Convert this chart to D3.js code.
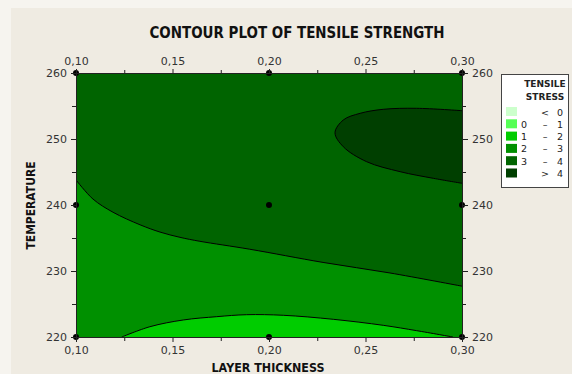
<!DOCTYPE html>
<html>
<head>
<meta charset="utf-8">
<script src="https://cdn.jsdelivr.net/npm/d3@7"></script>
<style>
  html, body { margin: 0; padding: 0; background: #efebe2; }
  svg { display: block; }
</style>
</head>
<body>
<svg id="chart" width="572" height="374"></svg>
<script>
// axis ticks
const thicknessTicks = [0.10, 0.15, 0.20, 0.25, 0.30];
const thicknessMinor = [0.125, 0.175, 0.225, 0.275];
const tempTicks = [220, 230, 240, 250, 260];
const tempMinor = [225, 235, 245, 255];

// design points (layer thickness, temperature)
const designThickness = [0.10, 0.20, 0.30];
const designTemp = [220, 240, 260];

// contour lines: [thickness, temperature]
const contour2 = [[0.1237, 220], [0.1383, 221.56], [0.1556, 222.58], [0.1729, 223.08], [0.1884, 223.38],
  [0.2074, 223.29], [0.2333, 222.68], [0.2592, 221.77], [0.2765, 220.96], [0.2953, 220]];
const contour3 = [[0.10, 243.8], [0.1088, 240.9], [0.1192, 238.9], [0.1332, 237.0], [0.1435, 235.9],
  [0.1539, 235.1], [0.1642, 234.5], [0.190, 233.3], [0.228, 231.3], [0.2627, 229.7], [0.30, 227.7]];
const contour4 = [[0.30, 254.29], [0.2765, 254.65], [0.2592, 254.5], [0.2472, 253.89], [0.2385, 252.88],
  [0.2342, 250.95], [0.2385, 248.83], [0.2506, 246.56], [0.2679, 245.05], [0.2852, 244.04], [0.30, 243.29]];

// legend
const legendFrom = ["", "0", "1", "2", "3", ""];
const legendSign = ["<", "\u2013", "\u2013", "\u2013", "\u2013", ">"];
const legendTo = ["0", "1", "2", "3", "4", "4"];
const levelColors = ["#ccffcc", "#55ff55", "#00cc00", "#009000", "#006400", "#003f00"];

const svg = d3.select("#chart");
const plotL = 76, plotR = 462, plotT = 73, plotB = 337;

const x = d3.scaleLinear().domain([0.10, 0.30]).range([plotL, plotR]);
const y = d3.scaleLinear().domain([220, 260]).range([plotB, plotT]);
const fmt = d3.formatLocale({decimal: ",", thousands: ".", grouping: [3], currency: ["", ""]}).format(".2f");

// lighter edges of the page scan
svg.append("rect").attr("x", 0).attr("y", 0).attr("width", 11).attr("height", 374).attr("fill", "#f6f4ef");
svg.append("rect").attr("x", 0).attr("y", 0).attr("width", 572).attr("height", 8).attr("fill", "#f6f4ef");

svg.append("defs").append("clipPath").attr("id", "plotClip")
  .append("rect").attr("x", plotL).attr("y", plotT).attr("width", plotR - plotL).attr("height", plotB - plotT);

const g = svg.append("g").attr("clip-path", "url(#plotClip)");
const line = d3.line().x(d => x(d[0])).y(d => y(d[1])).curve(d3.curveCatmullRom);

// 2 - 3 fills the whole area
g.append("rect").attr("x", plotL).attr("y", plotT).attr("width", plotR - plotL).attr("height", plotB - plotT)
    .attr("fill", levelColors[3]);

// 3 - 4 above contour3
g.append("path")
    .attr("d", line(contour3) + "L" + x(0.30) + "," + y(260) + "L" + x(0.10) + "," + y(260) + "Z")
    .attr("fill", levelColors[4]);

// > 4 ellipse at the right
g.append("path").attr("d", line(contour4) + "Z").attr("fill", levelColors[5]);

// 1 - 2 below contour2
g.append("path")
    .attr("d", line(contour2) + "L" + x(0.10) + "," + y(220) + "Z")
    .attr("fill", levelColors[2]);

[contour2, contour3, contour4].forEach(c => {
  g.append("path").attr("d", line(c)).attr("fill", "none").attr("stroke", "#000").attr("stroke-width", 1);
});

// design points
const pts = [];
designThickness.forEach(t => designTemp.forEach(T => pts.push([t, T])));
svg.append("g").selectAll("circle").data(pts).join("circle")
    .attr("cx", d => x(d[0])).attr("cy", d => y(d[1])).attr("r", 3)
    .attr("fill", "#000");

// axes
function styleAxis(sel) {
  sel.selectAll("path.domain").attr("stroke", "#222");
  sel.selectAll("line").attr("stroke", "#222");
  sel.selectAll("text").attr("font-family", "DejaVu Sans").attr("font-size", 11).attr("fill", "#333");
}

svg.append("g").attr("transform", `translate(0,${plotB})`)
    .call(d3.axisBottom(x).tickValues(thicknessTicks).tickFormat(fmt).tickSize(5).tickPadding(4).tickSizeOuter(0))
    .call(styleAxis);
svg.append("g").attr("transform", `translate(0,${plotB})`)
    .call(d3.axisBottom(x).tickValues(thicknessMinor).tickFormat("").tickSize(4).tickSizeOuter(0))
    .call(styleAxis);
svg.append("g").attr("transform", `translate(0,${plotT})`)
    .call(d3.axisTop(x).tickValues(thicknessTicks).tickFormat(fmt).tickSize(4).tickPadding(4).tickSizeOuter(0))
    .call(styleAxis);
svg.append("g").attr("transform", `translate(0,${plotT})`)
    .call(d3.axisTop(x).tickValues(thicknessMinor).tickFormat("").tickSize(3).tickSizeOuter(0))
    .call(styleAxis);
svg.append("g").attr("transform", `translate(${plotL},0)`)
    .call(d3.axisLeft(y).tickValues(tempTicks).tickFormat(d3.format("d")).tickSize(5).tickPadding(4).tickSizeOuter(0))
    .call(styleAxis);
svg.append("g").attr("transform", `translate(${plotL},0)`)
    .call(d3.axisLeft(y).tickValues(tempMinor).tickFormat("").tickSize(4).tickSizeOuter(0))
    .call(styleAxis);
svg.append("g").attr("transform", `translate(${plotR},0)`)
    .call(d3.axisRight(y).tickValues(tempTicks).tickFormat(d3.format("d")).tickSize(6).tickPadding(4).tickSizeOuter(0))
    .call(styleAxis);
svg.append("g").attr("transform", `translate(${plotR},0)`)
    .call(d3.axisRight(y).tickValues(tempMinor).tickFormat("").tickSize(4).tickSizeOuter(0))
    .call(styleAxis);

// titles
svg.append("text")
    .attr("x", 297).attr("y", 38).attr("text-anchor", "middle")
    .attr("textLength", 295).attr("lengthAdjust", "spacingAndGlyphs")
    .attr("font-family", "DejaVu Sans").attr("font-weight", "bold").attr("font-size", 16)
    .attr("fill", "#111")
    .text("CONTOUR PLOT OF TENSILE STRENGTH");

svg.append("text")
    .attr("x", 268).attr("y", 371.5).attr("text-anchor", "middle")
    .attr("textLength", 113).attr("lengthAdjust", "spacingAndGlyphs")
    .attr("font-family", "DejaVu Sans").attr("font-weight", "bold").attr("font-size", 11.5)
    .attr("fill", "#111")
    .text("LAYER THICKNESS");

svg.append("text")
    .attr("transform", "translate(35,205.5) rotate(-90)").attr("text-anchor", "middle")
    .attr("textLength", 88).attr("lengthAdjust", "spacingAndGlyphs")
    .attr("font-family", "DejaVu Sans").attr("font-weight", "bold").attr("font-size", 12)
    .attr("fill", "#111")
    .text("TEMPERATURE");

// legend
const lg = svg.append("g");
lg.append("rect").attr("x", 501.5).attr("y", 74.5).attr("width", 67).attr("height", 113)
    .attr("fill", "#fff").attr("stroke", "#444");
lg.append("text").attr("x", 545).attr("y", 87).attr("text-anchor", "middle")
    .attr("font-family", "DejaVu Sans").attr("font-weight", "bold").attr("font-size", 9).attr("fill", "#222")
    .text("TENSILE");
lg.append("text").attr("x", 545).attr("y", 99.5).attr("text-anchor", "middle")
    .attr("font-family", "DejaVu Sans").attr("font-weight", "bold").attr("font-size", 9).attr("fill", "#222")
    .text("STRESS");

const rowY = d3.scaleLinear().domain([0, 5]).range([107, 168.5]);
const rows = lg.selectAll("g.row").data(levelColors).join("g").attr("class", "row")
    .attr("transform", (d, i) => `translate(0,${rowY(i)})`);
rows.append("rect").attr("x", 506).attr("y", 0).attr("width", 11).attr("height", 9).attr("fill", d => d);
rows.append("text").attr("x", 524).attr("y", 8.5).attr("text-anchor", "middle")
    .attr("font-family", "DejaVu Sans").attr("font-size", 9.5).attr("fill", "#222")
    .text((d, i) => legendFrom[i]);
rows.append("text").attr("x", 545).attr("y", 8.5).attr("text-anchor", "middle")
    .attr("font-family", "DejaVu Sans").attr("font-size", 9.5).attr("fill", "#222")
    .text((d, i) => legendSign[i]);
rows.append("text").attr("x", 560).attr("y", 8.5).attr("text-anchor", "middle")
    .attr("font-family", "DejaVu Sans").attr("font-size", 9.5).attr("fill", "#222")
    .text((d, i) => legendTo[i]);
</script>
</body>
</html>
